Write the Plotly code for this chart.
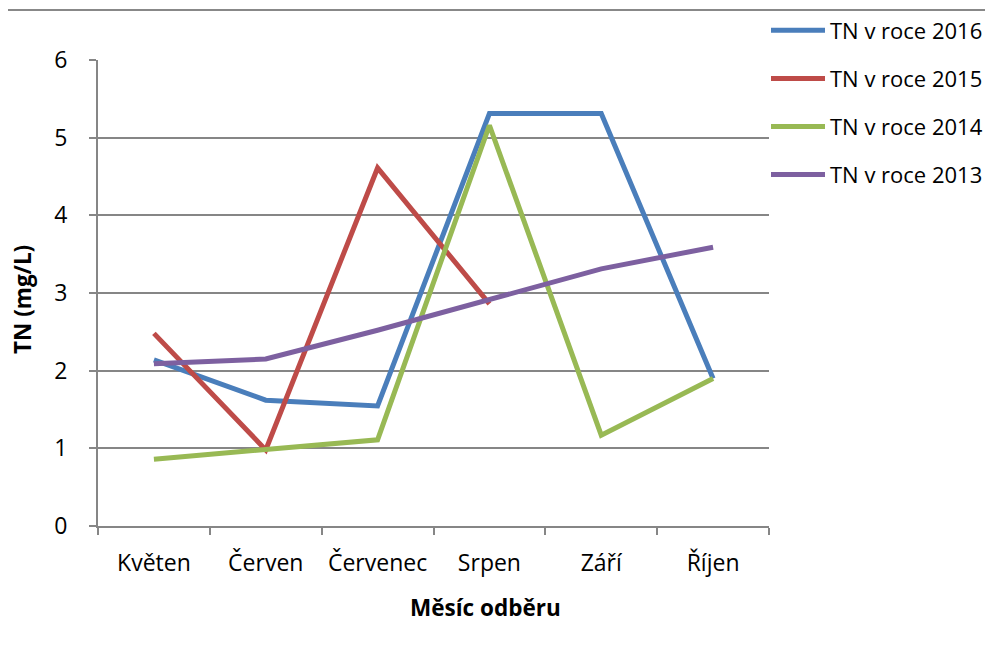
import plotly.graph_objects as go

months = ["Květen", "Červen", "Červenec", "Srpen", "Září", "Říjen"]
tn_2016 = [2.14, 1.62, 1.545, 5.31, 5.31, 1.9]
tn_2015 = [2.48, 0.98, 4.61, 2.86, None, None]
tn_2014 = [0.86, 0.98, 1.11, 5.16, 1.17, 1.9]
tn_2013 = [2.09, 2.15, 2.52, 2.91, 3.31, 3.59]

series = [
    ("TN v roce 2016", tn_2016, "#4A7EBB"),
    ("TN v roce 2015", tn_2015, "#BE4B48"),
    ("TN v roce 2014", tn_2014, "#98B954"),
    ("TN v roce 2013", tn_2013, "#7D60A0"),
]

FONT = "Open Sans"
FS = 23
fig = go.Figure()
for i, (name, vals, col) in enumerate(series):
    fig.add_trace(go.Scatter(x=months, y=vals, name=name, mode="lines",
                             line=dict(color=col, width=5), legendgroup=str(i),
                             connectgaps=False))

OFF = 8  # page body margin
W, H = 993 - OFF, 653 - OFF
L, T = 98 - OFF, 60 - OFF
pw, ph = 671, 466
R, B = W - L - pw, H - T - ph

def px_x(x):
    return (x - OFF - L) / pw

def px_y(y):
    return 1 - (y - OFF - T) / ph

fig.update_layout(
    width=W, height=H,
    margin=dict(l=L, r=R, t=T, b=B, autoexpand=False),
    paper_bgcolor="white", plot_bgcolor="white",
    font=dict(family=FONT, size=FS, color="#000000"),
    showlegend=True,
    legend=dict(x=px_x(766), y=px_y(9.5), xanchor="left", yanchor="top",
                font=dict(size=22), tracegroupgap=16.5, itemwidth=54,
                bgcolor="rgba(0,0,0,0)"),
    xaxis=dict(type="category", showgrid=False, showline=True, linecolor="#868686",
               linewidth=2, ticks="outside", tickson="boundaries", ticklen=7,
               tickcolor="#868686", tickwidth=2, tickfont=dict(size=FS),
               tickangle=0, automargin=False,
               ticklabelstandoff=15, range=[-0.5, 5.5]),
    yaxis=dict(range=[0, 6], dtick=1, showgrid=True, gridcolor="#868686", gridwidth=2,
               showline=True, linecolor="#868686", linewidth=2, ticks="outside",
               ticklen=7, tickcolor="#868686", tickwidth=2, tickfont=dict(size=FS),
               automargin=False, ticklabelstandoff=17, zeroline=False),
    shapes=[dict(type="line", xref="paper", yref="paper",
                 x0=px_x(0), x1=px_x(993), y0=px_y(10), y1=px_y(10),
                 line=dict(color="#888888", width=2))],
    annotations=[
        dict(text="<b>Měsíc odběru</b>", xref="paper", yref="paper",
             x=px_x(485), y=px_y(607), showarrow=False,
             xanchor="center", yanchor="middle", font=dict(size=FS - 0.5)),
        dict(text="<b>TN (mg/L)</b>", xref="paper", yref="paper",
             x=px_x(22), y=px_y(300), showarrow=False, textangle=-90,
             xanchor="center", yanchor="middle", font=dict(size=FS - 0.5)),
    ],
)

fig.write_html("out.html")
